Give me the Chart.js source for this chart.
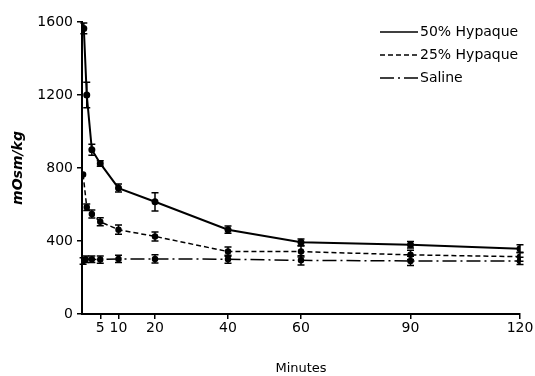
<!DOCTYPE html>
<html>
<head>
<meta charset="utf-8">
<script src="https://cdn.jsdelivr.net/npm/chart.js@4.4.1/dist/chart.umd.min.js"></script>
<style>
  html, body { margin: 0; padding: 0; background: #fff; }
  #wrap { width: 535px; height: 376px; }
</style>
</head>
<body>
<div id="wrap"><canvas id="chart" width="535" height="376"></canvas></div>
<script>
// minutes for each reading
const timesHyp50 = [0.5, 1.3, 2.7, 5, 10, 20, 40, 60, 90, 120]
const timesHyp25 = [0.3, 1.3, 2.7, 5, 10, 20, 40, 60, 90, 120]
const timesSaline = [0.3, 1, 2.7, 5, 10, 20, 40, 60, 90, 120]

// mOsm/kg
const hyp50 = [1565, 1200, 900, 825, 690, 615, 462, 393, 379, 357]
const hyp25 = [765, 585, 548, 505, 462, 425, 342, 342, 324, 314]
const saline = [290, 300, 300, 298, 302, 302, 300, 294, 291, 291]

// error bar half widths
const err50 = [30, 70, 30, 15, 22, 50, 20, 18, 18, 22]
const err25 = [0, 18, 22, 22, 25, 25, 25, 30, 25, 25]
const errSaline = [18, 18, 18, 20, 20, 22, 22, 25, 25, 20]

const xTicks = [5, 10, 20, 40, 60, 90, 120]
const yTicks = [0, 400, 800, 1200, 1600]

const seriesNames = ['50% Hypaque', '25% Hypaque', 'Saline']

const FONT = '"DejaVu Sans", "Liberation Sans", sans-serif'

function toPoints(xs, ys) {
  return xs.map((x, i) => ({ x: x, y: ys[i] }))
}

const errorBars = {
  id: 'errorBars',
  afterDatasetsDraw(chart) {
    const ctx = chart.ctx
    const yScale = chart.scales.y
    ctx.save()
    ctx.strokeStyle = '#000'
    ctx.lineWidth = 1.5
    ctx.setLineDash([])
    chart.data.datasets.forEach((ds, di) => {
      const meta = chart.getDatasetMeta(di)
      meta.data.forEach((pt, i) => {
        const e = ds.errors[i]
        if (!e) return
        const v = ds.data[i].y
        const top = yScale.getPixelForValue(v + e)
        const bot = yScale.getPixelForValue(v - e)
        ctx.beginPath()
        ctx.moveTo(pt.x, top); ctx.lineTo(pt.x, bot)
        ctx.moveTo(pt.x - 3.5, top); ctx.lineTo(pt.x + 3.5, top)
        ctx.moveTo(pt.x - 3.5, bot); ctx.lineTo(pt.x + 3.5, bot)
        ctx.stroke()
      })
    })
    ctx.restore()
  }
}

// legend drawn by hand, lines then labels
const sideLegend = {
  id: 'sideLegend',
  afterDraw(chart) {
    const ctx = chart.ctx
    ctx.save()
    ctx.font = '14px ' + FONT
    ctx.fillStyle = '#000'
    ctx.textBaseline = 'middle'
    chart.data.datasets.forEach((ds, i) => {
      const y = 32 + i * 23
      ctx.strokeStyle = '#000'
      ctx.lineWidth = 1.5
      ctx.setLineDash(ds.borderDash || [])
      ctx.beginPath()
      ctx.moveTo(380, y)
      ctx.lineTo(418, y)
      ctx.stroke()
      ctx.fillText(seriesNames[i], 420, y)
    })
    ctx.restore()
  }
}

const setup = {
  type: 'scatter',
  data: {
    datasets: [
      {
        label: seriesNames[0],
        data: toPoints(timesHyp50, hyp50),
        errors: err50,
        showLine: true,
        borderColor: '#000',
        backgroundColor: '#000',
        borderWidth: 2,
        pointRadius: 2.5
      },
      {
        label: seriesNames[1],
        data: toPoints(timesHyp25, hyp25),
        errors: err25,
        showLine: true,
        borderColor: '#000',
        backgroundColor: '#000',
        borderWidth: 1.5,
        borderDash: [5, 3],
        pointRadius: 2.5
      },
      {
        label: seriesNames[2],
        data: toPoints(timesSaline, saline),
        errors: errSaline,
        showLine: true,
        borderColor: '#000',
        backgroundColor: '#000',
        borderWidth: 1.5,
        borderDash: [14, 4, 2, 4],
        pointRadius: 2.5
      }
    ]
  },
  options: {
    responsive: false,
    animation: false,
    layout: { padding: { top: 22, right: 15, left: 0, bottom: 0 } },
    plugins: {
      legend: { display: false },
      tooltip: { enabled: false }
    },
    scales: {
      x: {
        type: 'linear',
        min: 0,
        max: 120,
        afterBuildTicks: s => { s.ticks = xTicks.map(v => ({ value: v })) },
        afterFit: s => { s.height = 62 },
        grid: { drawOnChartArea: false, color: '#000', tickLength: 5, lineWidth: 1.5 },
        border: { color: '#000', width: 2 },
        ticks: {
          color: '#000',
          font: { family: FONT, size: 14 },
          padding: 1,
          maxRotation: 0,
          callback: v => String(v)
        },
        title: {
          display: true,
          text: 'Minutes',
          color: '#000',
          font: { family: FONT, size: 13 },
          padding: { top: 18, bottom: 0 }
        }
      },
      y: {
        min: 0,
        max: 1600,
        afterBuildTicks: s => { s.ticks = yTicks.map(v => ({ value: v })) },
        afterFit: s => { s.width = 82 },
        grid: { drawOnChartArea: false, color: '#000', tickLength: 5, lineWidth: 1.5 },
        border: { color: '#000', width: 2 },
        ticks: {
          color: '#000',
          font: { family: FONT, size: 14 },
          padding: 4,
          callback: v => String(v)
        },
        title: {
          display: true,
          text: 'mOsm/kg',
          color: '#000',
          font: { family: FONT, size: 14, style: 'italic', weight: 'bold' },
          padding: { top: 10, bottom: 0 }
        }
      }
    }
  },
  plugins: [errorBars, sideLegend]
}

new Chart(document.getElementById('chart'), setup)
</script>
</body>
</html>
